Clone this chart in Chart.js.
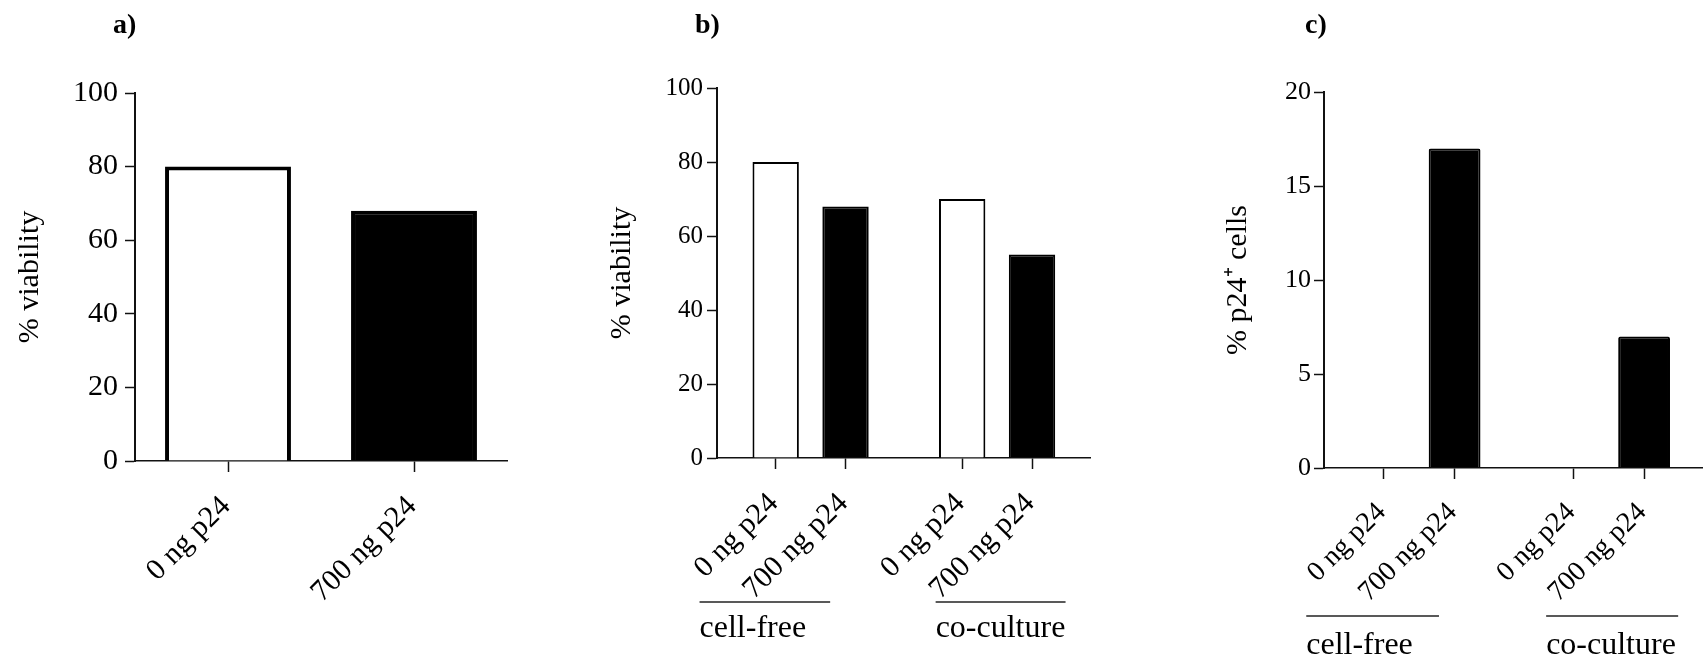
<!DOCTYPE html>
<html lang="en">
<head>
    <meta charset="UTF-8">
    <title>p24 viability panels</title>
    <style>
        body { margin: 0; background: #fff; }
        #page { position: relative; width: 1703px; height: 656px; overflow: hidden; font-family: 'Liberation Serif', 'Times New Roman', serif; }
        canvas { position: absolute; top: 0; }
        .tag { position: absolute; top: 10px; font-weight: bold; font-size: 28px; line-height: 28px; color: #000; }
    </style>
</head>
<body>
<div id="page">
    <canvas id="chartA" width="540" height="656" style="left:0"></canvas>
    <canvas id="chartB" width="560" height="656" style="left:560px"></canvas>
    <canvas id="chartC" width="563" height="656" style="left:1140px"></canvas>
    <div class="tag" style="left:113px">a)</div>
    <div class="tag" style="left:695px">b)</div>
    <div class="tag" style="left:1305px">c)</div>
</div>

<script src="https://cdn.jsdelivr.net/npm/chart.js"></script>
<script>
    // data
    const doses = ['0 ng p24', '700 ng p24'];
    const groups = ['cell-free', 'co-culture'];
    const viabilityA = [80, 68];
    const viabilityB = [80, 68, 70, 55];   // cell-free 0/700, co-culture 0/700
    const p24CellsC = [0, 17, 0, 7];
    const viabilityTicks = [0, 20, 40, 60, 80, 100];
    const p24Ticks = [0, 5, 10, 15, 20];

    const GROUP_GAP = 0.67;   // extra space between the two groups, in bar slots
    const SERIF = "'Liberation Serif', 'Times New Roman', serif";
    const INK = '#111';

    Chart.defaults.font.family = SERIF;
    Chart.defaults.color = '#000';

    // grouped bars sit on a linear axis so the gap between groups can be wider
    const groupedLabels = groups.flatMap(() => doses);
    const groupedPos = groups.flatMap((g, gi) => doses.map((d, di) => gi * (doses.length + GROUP_GAP) + di + 1));
    const fillFor = label => label.startsWith('0 ') ? '#fff' : '#000';

    const groupBrackets = {
        id: 'groupBrackets',
        afterDraw(chart, args, opts) {
            if (!opts.spans) return;
            const { ctx } = chart;
            const x = chart.scales.x;
            const base = chart.chartArea.bottom;
            ctx.save();
            ctx.strokeStyle = '#222';
            ctx.lineWidth = 1.5;
            ctx.fillStyle = '#000';
            ctx.font = opts.fontSize + 'px ' + SERIF;
            ctx.textAlign = 'left';
            ctx.textBaseline = 'alphabetic';
            opts.spans.forEach((span, i) => {
                const x0 = x.getPixelForValue(span[0]);
                const x1 = x.getPixelForValue(span[1]);
                ctx.beginPath();
                ctx.moveTo(x0, base + opts.lineOffset);
                ctx.lineTo(x1, base + opts.lineOffset);
                ctx.stroke();
                ctx.fillText(groups[i], x0, base + opts.textOffset);
            });
            ctx.restore();
        }
    };

    function yAxis(title, ticks, max, o) {
        return {
            min: 0,
            max: max,
            afterBuildTicks: s => { s.ticks = ticks.map(v => ({ value: v })); },
            afterFit: s => { s.width = o.width; },
            border: { color: INK, width: 2 },
            grid: { drawOnChartArea: false, tickLength: 10, tickColor: INK, tickWidth: 1.5 },
            ticks: { font: { size: o.tickSize }, padding: o.tickPad, color: '#000' },
            title: { display: true, text: title, color: '#000', font: { size: 30 }, padding: { top: o.titlePad, bottom: 0 } }
        };
    }

    function xTicks(size) {
        return { minRotation: 45, maxRotation: 45, autoSkip: false, labelOffset: -2, padding: 17, font: { size: size }, color: '#000' };
    }

    // a) viability, single group
    new Chart(document.getElementById('chartA'), {
        type: 'bar',
        data: {
            labels: doses,
            datasets: [{
                data: viabilityA,
                backgroundColor: doses.map(fillFor),
                borderColor: '#000',
                borderWidth: 4,
                barPercentage: 0.677,
                categoryPercentage: 1
            }]
        },
        options: {
            responsive: false,
            animation: false,
            layout: { padding: { top: 93, right: 33, left: 0, bottom: 0 } },
            plugins: { legend: { display: false }, tooltip: { enabled: false } },
            scales: {
                x: {
                    type: 'category',
                    offset: true,
                    afterFit: s => { s.height = 195; },
                    border: { color: INK, width: 1.5 },
                    grid: { offset: false, drawOnChartArea: false, tickLength: 11, tickColor: INK, tickWidth: 1.5 },
                    ticks: xTicks(30)
                },
                y: yAxis('% viability', viabilityTicks, 100, { width: 135, tickSize: 30, tickPad: 7, titlePad: 12 })
            }
        }
    });

    function groupedChart(id, values, yOpts, barPct, geo) {
        return new Chart(document.getElementById(id), {
            type: 'bar',
            data: {
                datasets: [{
                    data: groupedPos.map((x, i) => ({ x: x, y: values[i] })),
                    backgroundColor: groupedLabels.map(fillFor),
                    borderColor: '#000',
                    borderWidth: 2,
                    borderRadius: geo.radius,
                    barPercentage: barPct,
                    categoryPercentage: 1
                }]
            },
            options: {
                responsive: false,
                animation: false,
                layout: { padding: { top: geo.top, right: geo.right, left: 0, bottom: 0 } },
                plugins: {
                    legend: { display: false },
                    tooltip: { enabled: false },
                    groupBrackets: { spans: [[-0.09, 1.78], [3.29, 5.15]], lineOffset: geo.lineOffset, textOffset: geo.textOffset, fontSize: 32 }
                },
                scales: {
                    x: {
                        type: 'linear',
                        min: 0.16,
                        max: 5.5,
                        offset: false,
                        afterBuildTicks: s => { s.ticks = groupedPos.map(v => ({ value: v })); },
                        afterFit: s => { s.height = geo.xHeight; },
                        border: { color: INK, width: 1.5 },
                        grid: { offset: false, drawOnChartArea: false, tickLength: 11, tickColor: INK, tickWidth: 1.5 },
                        ticks: Object.assign(xTicks(geo.labelSize), { callback: (v, i) => groupedLabels[i] })
                    },
                    y: yOpts
                }
            },
            plugins: [groupBrackets]
        });
    }

    // b) viability, cell-free vs co-culture
    groupedChart('chartB', viabilityB,
        yAxis('% viability', viabilityTicks, 100, { width: 157, tickSize: 25, tickPad: 4, titlePad: 44 }),
        0.664,
        { top: 88, right: 30, xHeight: 198, labelSize: 30, lineOffset: 144, textOffset: 179, radius: 0 });

    // c) p24 positive cells
    groupedChart('chartC', p24CellsC,
        yAxis('% p24\u207A cells', p24Ticks, 20, { width: 184, tickSize: 26, tickPad: 3, titlePad: 80 }),
        0.73,
        { top: 92, right: 0, xHeight: 188, labelSize: 28, lineOffset: 148, textOffset: 186, radius: 2 });
</script>
</body>
</html>
